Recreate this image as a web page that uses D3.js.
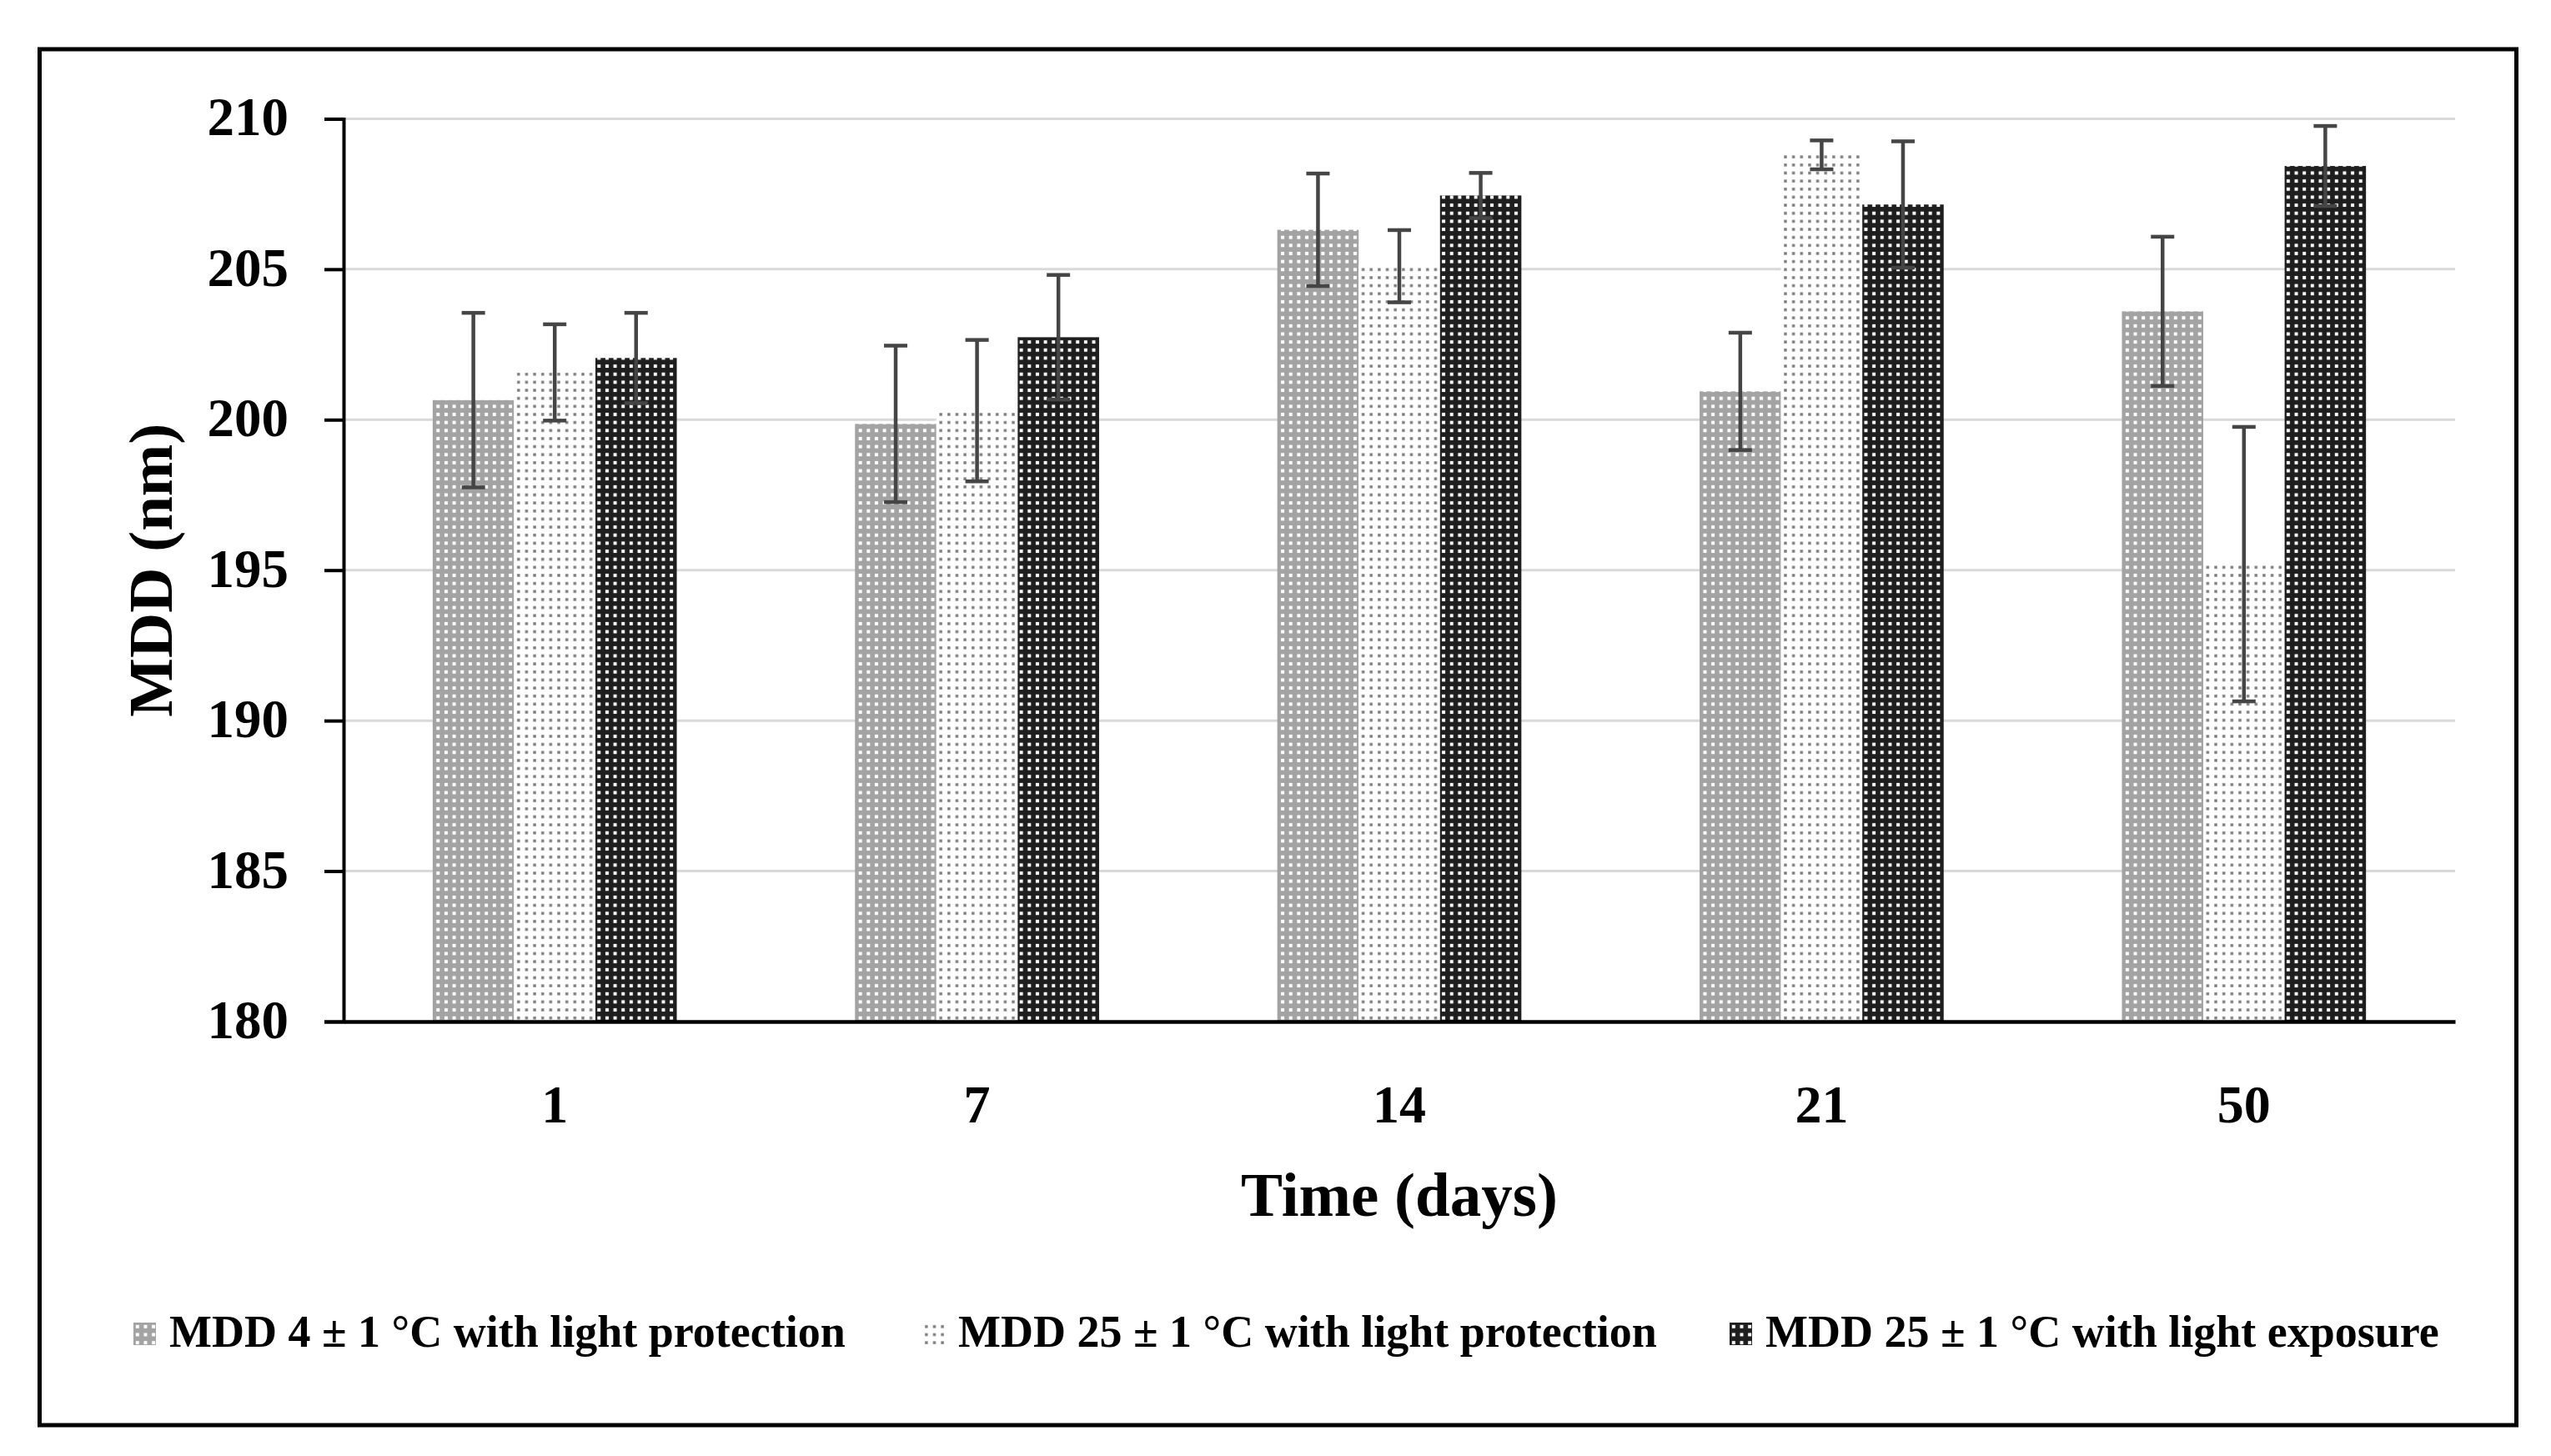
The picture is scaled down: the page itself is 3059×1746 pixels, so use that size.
<!DOCTYPE html>
<html>
<head>
<meta charset="utf-8">
<script src="https://cdn.jsdelivr.net/npm/d3@7"></script>
<style>
  html, body { margin: 0; padding: 0; background: #fff; }
  svg { display: block; }
  text { font-family: "Liberation Serif", "DejaVu Serif", serif; font-weight: bold; fill: #000; }
</style>
</head>
<body>
<svg id="chart" width="3059" height="1746"></svg>
<script>
// ---------------- data ----------------
const days = ["1", "7", "14", "21", "50"];
const seriesNames = [
  "MDD 4 ± 1 °C with light protection",
  "MDD 25 ± 1 °C with light protection",
  "MDD 25 ± 1 °C with light exposure"
];
const mdd4Protected      = [200.65, 199.86, 206.31, 200.94, 203.60];
const mdd4ProtectedErr   = [2.90, 2.60, 1.87, 1.95, 2.48];
const mdd25Protected     = [201.57, 200.30, 205.10, 208.80, 195.20];
const mdd25ProtectedErr  = [1.60, 2.35, 1.20, 0.48, 4.56];
const mdd25Exposed       = [202.05, 202.74, 207.45, 207.15, 208.43];
const mdd25ExposedErr    = [1.50, 2.07, 0.75, 2.10, 1.33];
const yTicks = [180, 185, 190, 195, 200, 205, 210];
const xTitle = "Time (days)";
const yTitle = "MDD (nm)";

const seriesValues = [mdd4Protected, mdd25Protected, mdd25Exposed];
const seriesErrors = [mdd4ProtectedErr, mdd25ProtectedErr, mdd25ExposedErr];

// ---------------- layout ----------------
const W = 3059, H = 1746;
const plot = { left: 412, right: 2944, top: 142.4, bottom: 1225 };

const svg = d3.select("#chart");
svg.append("rect").attr("width", W).attr("height", H).attr("fill", "#fff");

// patterns
const defs = svg.append("defs");
const tile = 9.65;
function makePattern(id, bg, dot, dotSize) {
  const p = defs.append("pattern").attr("id", id)
    .attr("patternUnits", "userSpaceOnUse")
    .attr("width", tile).attr("height", tile);
  p.append("rect").attr("width", tile).attr("height", tile).attr("fill", bg);
  p.append("rect").attr("x", (tile - dotSize) / 2).attr("y", (tile - dotSize) / 2)
    .attr("width", dotSize).attr("height", dotSize).attr("fill", dot);
}
makePattern("pat0", "#a3a3a3", "#ffffff", 4);
makePattern("pat1", "#ffffff", "#7a7a7a", 3.4);
makePattern("pat2", "#1e1e1e", "#ffffff", 4);
const fills = ["url(#pat0)", "url(#pat1)", "url(#pat2)"];

// outer frame
svg.append("rect").attr("x", 47.5).attr("y", 59).attr("width", 2970).attr("height", 1650)
  .attr("fill", "none").attr("stroke", "#000").attr("stroke-width", 5);

// scales
const y = d3.scaleLinear().domain([180, 210]).range([plot.bottom, plot.top]);
const x = d3.scaleBand().domain(days).range([plot.left, plot.right]).paddingInner(0).paddingOuter(0);
const groupW = x.bandwidth() * 0.578;
const xs = d3.scaleBand().domain(d3.range(seriesNames.length)).range([-groupW / 2, groupW / 2]).padding(0);

// gridlines
svg.append("g").selectAll("line").data(yTicks.filter(t => t !== 180)).join("line")
  .attr("x1", plot.left).attr("x2", plot.right)
  .attr("y1", d => y(d)).attr("y2", d => y(d))
  .attr("stroke", "#d9d9d9").attr("stroke-width", 3);

// bars
const groups = svg.append("g").selectAll("g").data(days).join("g")
  .attr("transform", d => `translate(${x(d) + x.bandwidth() / 2},0)`);

seriesNames.forEach((name, si) => {
  groups.append("rect")
    .attr("x", xs(si))
    .attr("width", xs.bandwidth())
    .attr("y", (d, i) => y(seriesValues[si][i]))
    .attr("height", (d, i) => y(180) - y(seriesValues[si][i]))
    .attr("fill", fills[si]);
});

// error bars
const cap = 28;
seriesNames.forEach((name, si) => {
  const cx = xs(si) + xs.bandwidth() / 2;
  const eb = groups.append("g").attr("stroke", "#454545").attr("stroke-width", 4.5);
  eb.append("line")
    .attr("x1", cx).attr("x2", cx)
    .attr("y1", (d, i) => y(seriesValues[si][i] + seriesErrors[si][i]))
    .attr("y2", (d, i) => y(seriesValues[si][i] - seriesErrors[si][i]));
  eb.append("line")
    .attr("x1", cx - cap / 2).attr("x2", cx + cap / 2)
    .attr("y1", (d, i) => y(seriesValues[si][i] + seriesErrors[si][i]))
    .attr("y2", (d, i) => y(seriesValues[si][i] + seriesErrors[si][i]));
  eb.append("line")
    .attr("x1", cx - cap / 2).attr("x2", cx + cap / 2)
    .attr("y1", (d, i) => y(seriesValues[si][i] - seriesErrors[si][i]))
    .attr("y2", (d, i) => y(seriesValues[si][i] - seriesErrors[si][i]));
});

// y axis
const yAxis = svg.append("g").attr("transform", `translate(${plot.left},0)`)
  .call(d3.axisLeft(y).tickValues(yTicks).tickSize(23).tickPadding(44).tickFormat(d3.format("d")));
yAxis.select(".domain").attr("stroke", "#000").attr("stroke-width", 4);
yAxis.selectAll(".tick line").attr("stroke", "#000").attr("stroke-width", 4);
yAxis.selectAll(".tick text").attr("font-size", 65).attr("font-family", "Liberation Serif")
  .attr("font-weight", "bold").attr("fill", "#000").attr("x", -66).attr("text-anchor", "end").attr("dy", "0.3em");

// x axis
const xAxis = svg.append("g").attr("transform", `translate(0,${plot.bottom})`)
  .call(d3.axisBottom(x).tickSize(0).tickPadding(0));
xAxis.select(".domain").attr("stroke", "#000").attr("stroke-width", 4.5);
xAxis.selectAll(".tick text").attr("font-size", 64).attr("font-family", "Liberation Serif")
  .attr("font-weight", "bold").attr("fill", "#000").attr("dy", "0").attr("y", 121);

// axis titles
svg.append("text").attr("x", (plot.left + plot.right) / 2).attr("y", 1458)
  .attr("text-anchor", "middle").attr("font-size", 75).text(xTitle);
svg.append("text").attr("transform", `translate(206,${(plot.top + plot.bottom) / 2}) rotate(-90)`)
  .attr("text-anchor", "middle").attr("font-size", 75).text(yTitle);

// legend
const legendX = [160, 1106, 2074];
const legend = svg.append("g").selectAll("g").data(seriesNames).join("g")
  .attr("transform", (d, i) => `translate(${legendX[i]},1586)`);
legend.append("rect").attr("width", 27).attr("height", 27).attr("fill", (d, i) => fills[i]);
legend.append("text").attr("x", 43).attr("y", 29).attr("font-size", 54).text(d => d);
</script>
</body>
</html>
